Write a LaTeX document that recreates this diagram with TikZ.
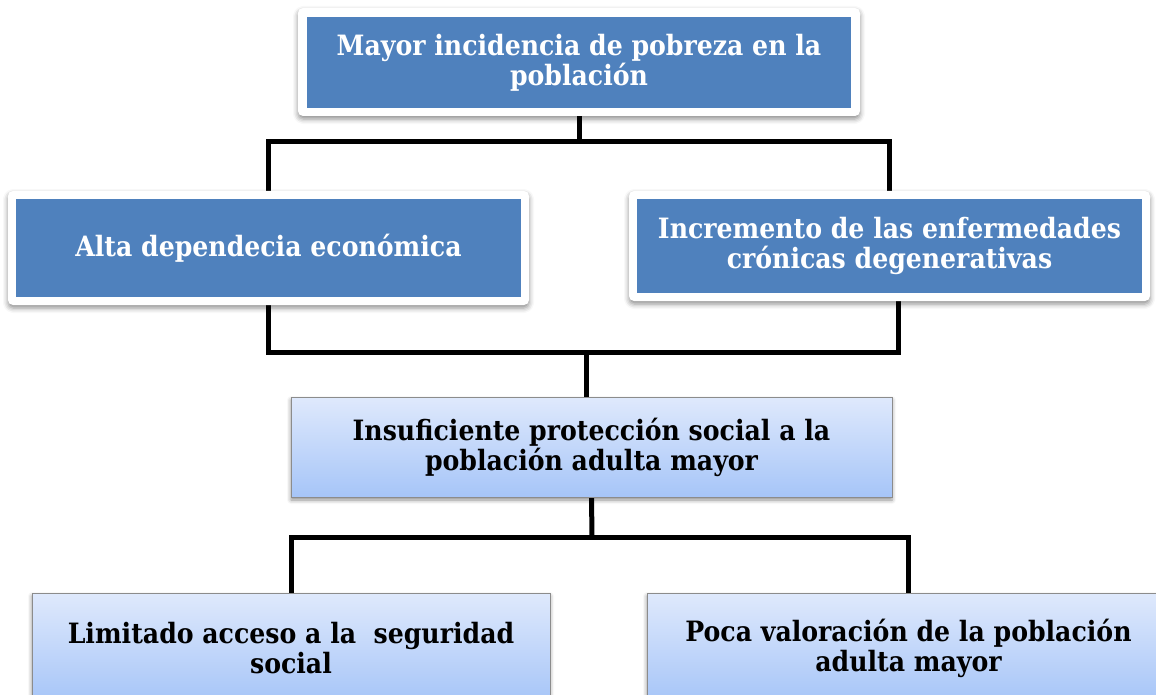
\documentclass[tikz,border=0pt]{standalone}
\usepackage{fontspec}
\newfontfamily\boxfont{DejaVu Serif Condensed}
\usetikzlibrary{shadows,shadows.blur,backgrounds}
\definecolor{officeblue}{HTML}{4F81BD}
\definecolor{gradtop}{RGB}{223,233,252}
\definecolor{gradbot}{RGB}{166,197,248}
\definecolor{boxgray}{RGB}{140,140,140}
\tikzset{
  frame/.style={fill=white, draw=none, rounded corners=5pt, inner sep=0pt,
    blur shadow={shadow xshift=0pt, shadow yshift=-3pt, shadow blur radius=5pt, shadow opacity=45}},
  bluebox/.style={fill=officeblue, draw=none, inner sep=0pt, text=white,
    align=center, font=\boxfont\bfseries\fontsize{28}{30}\selectfont},
  lightbox/.style={top color=gradtop, bottom color=gradbot, draw=boxgray, line width=0.8pt,
    inner sep=0pt, text=black, align=center, font=\boxfont\bfseries\fontsize{28}{30}\selectfont,
    blur shadow={shadow xshift=0pt, shadow yshift=-3pt, shadow blur radius=4pt, shadow opacity=45}},
  conn/.style={draw=black, line width=5pt}
}
\begin{document}
\begin{tikzpicture}[x=1pt,y=-1pt]
\useasboundingbox (0,0) rectangle (1156,695);
% top
\node[frame, minimum width=562pt, minimum height=108pt] (f0) at (579,62) {};
\node[bluebox, minimum width=544pt, minimum height=91pt] (b0) at (579,62.5)
  {Mayor incidencia de pobreza en la\\población};
% level 2
\node[frame, minimum width=521pt, minimum height=114pt] (f1) at (268.5,248) {};
\node[bluebox, minimum width=505pt, minimum height=98pt] (b1) at (268.5,248)
  {Alta dependecia económica};
\node[frame, minimum width=521pt, minimum height=110pt] (f2) at (889.5,246) {};
\node[bluebox, minimum width=505pt, minimum height=94pt] (b2) at (889.5,246)
  {Incremento de las enfermedades\\crónicas degenerativas};
% middle
\node[lightbox, minimum width=601pt, minimum height=100pt] (m) at (591.5,447)
  {Insuficiente protección social a la\\población adulta mayor};
% bottom
\node[lightbox, minimum width=518pt, minimum height=110pt] (l) at (291,648)
  {Limitado acceso a la\ \ seguridad\\social};
\node[lightbox, minimum width=523pt, minimum height=110pt] (r) at (908.5,648)
  {Poca valoración de la población\\adulta mayor};
\coordinate (j0) at (579,142);
\coordinate (j1) at (586.5,352);
\coordinate (j2) at (592,537);
\begin{pgfonlayer}{background}
\draw[conn] (f0.south) -- (j0);
\draw[conn] ([xshift=-0.5pt]f1.north) |- (j0) -| (f2.north);
\draw[conn] (f1.south) |- (j1) -| ([xshift=8.5pt]f2.south);
\draw[conn] (j1) -- ([xshift=-5pt]m.north);
\draw[conn] (m.south) -- (j2);
\draw[conn] (l.north) |- (j2) -| (r.north);
\end{pgfonlayer}
\end{tikzpicture}
\end{document}
